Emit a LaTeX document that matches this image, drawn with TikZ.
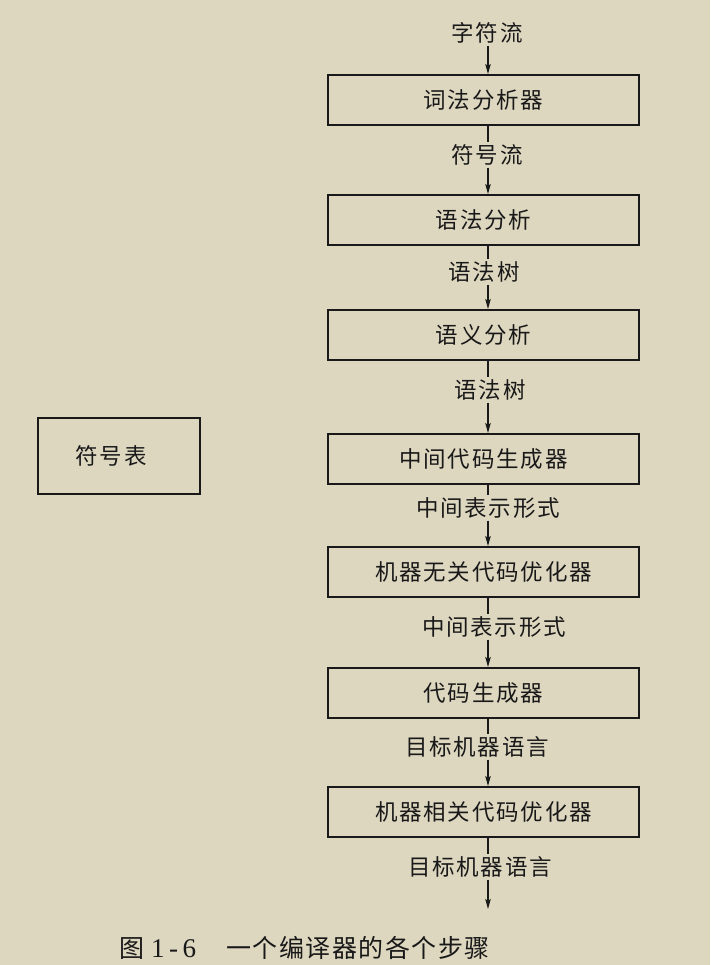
\documentclass[tikz,border=0pt]{standalone}
\usepackage{fontspec}
\setmainfont{Liberation Serif}
\newfontfamily\cjk{Noto Sans CJK SC}[LetterSpace=8]
\newfontfamily\cjkcap{Noto Sans CJK SC}[LetterSpace=6]
\usetikzlibrary{arrows.meta}
\definecolor{paper}{RGB}{222,215,192}
\definecolor{ink}{RGB}{25,25,25}
\begin{document}
\begin{tikzpicture}[x=1pt,y=-1pt,
  stagebox/.style={draw=ink,line width=2pt,minimum width=311pt,minimum height=50pt,inner sep=0pt,
     font=\cjk\fontsize{22.5}{26}\selectfont,text=ink},
  flowlabel/.style={inner sep=2pt,font=\cjk\fontsize{22.5}{26}\selectfont,text=ink},
  link/.style={draw=ink,line width=1.1pt},
  arr/.style={draw=ink,line width=1.1pt,-{Stealth[length=10pt,width=5.5pt,inset=2pt]}}]
\fill[paper] (0,0) rectangle (710,965);
\useasboundingbox (0,0) rectangle (710,965);
\coordinate (axis) at (488,0);
% stage boxes
\node[stagebox] (b1) at (483.5,100) {词法分析器};
\node[stagebox] (b2) at (483.5,220) {语法分析};
\node[stagebox] (b3) at (483.5,335) {语义分析};
\node[stagebox] (b4) at (483.5,459) {中间代码生成器};
\node[stagebox] (b5) at (483.5,572) {机器无关代码优化器};
\node[stagebox] (b6) at (483.5,693) {代码生成器};
\node[stagebox] (b7) at (483.5,812) {机器相关代码优化器};
% symbol table
\node[draw=ink,line width=2pt,minimum width=162pt,minimum height=76pt,inner sep=0pt,
  font=\cjk\fontsize{22.5}{26}\selectfont,text=ink] (sym) at (119,456) {符号表\hspace*{16pt}};
% flow labels
\node[flowlabel] (l0) at (487,33) {字符流};
\node[flowlabel] (l1) at (487,155) {符号流};
\node[flowlabel] (l2) at (484,272) {语法树};
\node[flowlabel] (l3) at (490,390) {语法树};
\node[flowlabel] (l4) at (488,508) {中间表示形式};
\node[flowlabel] (l5) at (494,627) {中间表示形式};
\node[flowlabel] (l6) at (477,747) {目标机器语言};
\node[flowlabel] (l7) at (480,867) {目标机器语言};
\coordinate (endpt) at (488,909);
% connectors
\draw[arr] (l0.south -| axis) -- (b1.north -| axis);
\draw[link] (b1.south -| axis) -- (l1.north -| axis);
\draw[arr] (l1.south -| axis) -- (b2.north -| axis);
\draw[link] (b2.south -| axis) -- (l2.north -| axis);
\draw[arr] (l2.south -| axis) -- (b3.north -| axis);
\draw[link] (b3.south -| axis) -- (l3.north -| axis);
\draw[arr] (l3.south -| axis) -- (b4.north -| axis);
\draw[link] (b4.south -| axis) -- (l4.north -| axis);
\draw[arr] (l4.south -| axis) -- (b5.north -| axis);
\draw[link] (b5.south -| axis) -- (l5.north -| axis);
\draw[arr] (l5.south -| axis) -- (b6.north -| axis);
\draw[link] (b6.south -| axis) -- (l6.north -| axis);
\draw[arr] (l6.south -| axis) -- (b7.north -| axis);
\draw[link] (b7.south -| axis) -- (l7.north -| axis);
\draw[arr] (l7.south -| axis) -- (endpt);
% caption
\node[anchor=west,inner sep=0pt,text=ink] (cap) at (119,948)
  {{\cjkcap\fontsize{25}{28}\selectfont 图}\hspace{7pt}{\fontsize{27}{30}\selectfont 1\,-\,6}\hspace{30pt}{\cjkcap\fontsize{25}{28}\selectfont 一个编译器的各个步骤}};
\end{tikzpicture}
\end{document}
